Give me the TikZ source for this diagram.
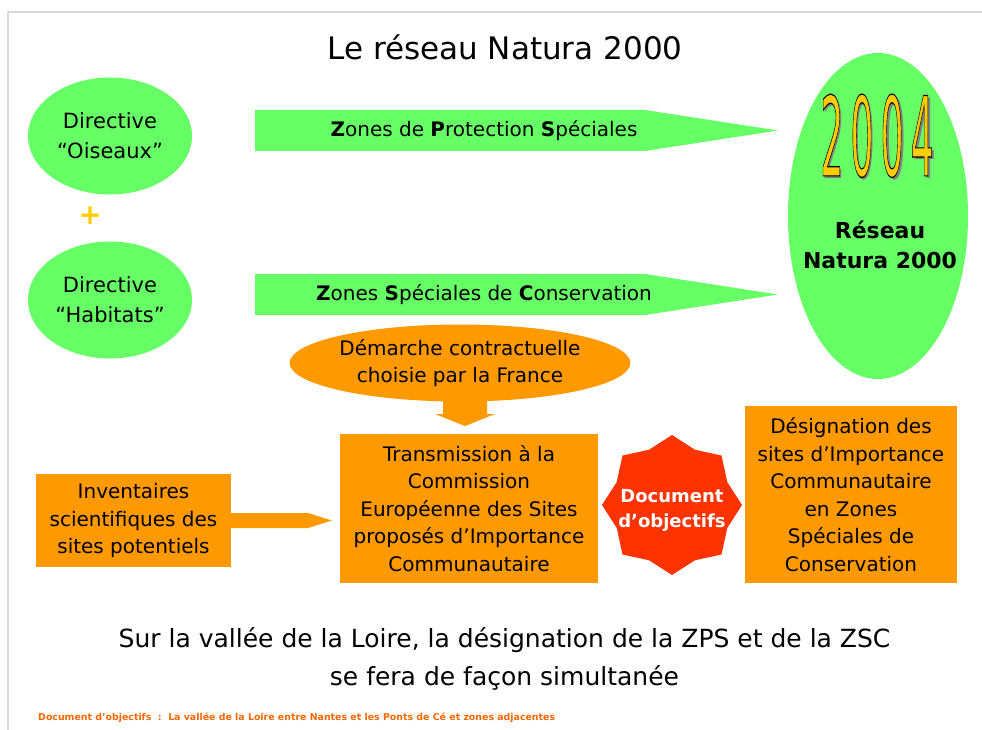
\documentclass[tikz,border=0pt]{standalone}
\usepackage{fontspec}
\setmainfont{DejaVu Sans}
\usetikzlibrary{shapes.geometric}
\definecolor{natgreen}{HTML}{66FF66}
\definecolor{natorange}{HTML}{FF9900}
\definecolor{starred}{HTML}{FF3300}
\definecolor{gold}{HTML}{FFCC00}
\definecolor{footorange}{HTML}{FF6600}
\definecolor{frame}{HTML}{D9D9D9}
\newcommand{\bodyfont}{\fontsize{20}{27.5}\selectfont}
\newcommand{\yearraw}{\scalebox{0.8}[2.45]{\fontsize{45}{45}\selectfont 2\hspace{9pt}0\hspace{9pt}0\hspace{9pt}4}}
\newcommand{\yeardigits}{%
  \rlap{\hspace{2.5pt}\raisebox{-2.5pt}{\color{gray}\yearraw}}%
  {\color{gold}\special{pdf:literal direct 0 0 0 RG 2 Tr 0.5 w}\yearraw\special{pdf:literal direct 0 Tr}}}
\tikzset{
  greenell/.style={ellipse, fill=natgreen, inner sep=0pt, align=center},
  orangebox/.style={rectangle, fill=natorange, inner sep=0pt, align=center, font=\bodyfont},
  txt/.style={inner sep=0pt, align=center},
}
\begin{document}
\begin{tikzpicture}[x=1pt,y=-1pt]
\useasboundingbox (0,0) rectangle (982,730);
% slide frame
\draw[frame, line width=1.5pt] (8,730) -- (8,12) -- (982,12);
% title
\node[txt, font=\fontsize{31}{31}\selectfont] (title) at (505,47) {Le réseau Natura 2000};
% directives
\node[greenell, minimum width=164, minimum height=117, font=\fontsize{21}{30}\selectfont] (ois) at (110,136) {Directive\\“Oiseaux”};
\node[txt, text=gold, font=\bfseries\fontsize{28}{28}\selectfont] (plus) at (90,216) {+};
\node[greenell, minimum width=164, minimum height=117, font=\fontsize{21}{30}\selectfont] (hab) at (110,300) {Directive\\“Habitats”};
% green block arrows
\fill[natgreen] (255,110) -- (645,110) -- (778,130.5) -- (645,151) -- (255,151) -- cycle;
\node[txt, font=\fontsize{20}{20}\selectfont] (zps) at (484,130.5) {\textbf{Z}ones de \textbf{P}rotection \textbf{S}péciales};
\fill[natgreen] (255,274) -- (645,274) -- (778,294.5) -- (645,315) -- (255,315) -- cycle;
\node[txt, font=\fontsize{20}{20}\selectfont] (zsc) at (484,294.5) {\textbf{Z}ones \textbf{S}péciales de \textbf{C}onservation};
% Natura 2000 ellipse
\node[greenell, minimum width=180, minimum height=326] (net) at (878,216) {};
\node[txt] (year) at (877,137) {\yeardigits};
\node[txt, font=\bfseries\fontsize{22}{30}\selectfont] (nettext) at (880,245) {Réseau\\Natura 2000};
% demarche
\node[ellipse, fill=natorange, minimum width=306, minimum height=77, inner sep=0pt, align=center, font=\bodyfont] (dem) at (460,363) {Démarche contractuelle\\choisie par la France};
% boxes
\node[orangebox, minimum width=195, minimum height=93] (inv) at (133.5,520.5) {Inventaires\\scientifiques des\\sites potentiels};
\node[orangebox, minimum width=258, minimum height=149] (trans) at (469,508.5) {Transmission à la\\Commission\\Européenne des Sites\\proposés d’Importance\\Communautaire};
\node[orangebox, minimum width=212, minimum height=177] (desig) at (851,494.5) {Désignation des\\sites d’Importance\\Communautaire\\en Zones\\Spéciales de\\Conservation};
% down arrow
\fill[natorange] (443,398) -- (487,398) -- (487,414) -- (495,414) -- (465,426) -- (435,414) -- (443,414) -- cycle;
% right arrow inventaires -> transmission
\fill[natorange] (inv.east |- 0,513) -- (308,513) -- (332,520.5) -- (308,528) -- (inv.east |- 0,528) -- cycle;
% star
\node[star, star points=8, star point ratio=1.17, fill=starred, minimum size=140, inner sep=0pt] (doc) at (672,505) {};
\node[txt, text=white, font=\bfseries\fontsize{18}{25}\selectfont] (doctext) at (672,510) {Document\\d’objectifs};
% bottom text
\node[txt, font=\fontsize{25}{38}\selectfont] (concl) at (504.5,659) {Sur la vallée de la Loire, la désignation de la ZPS et de la ZSC\\se fera de façon simultanée};
% footer
\node[anchor=west, inner sep=0pt, text=footorange, font=\bfseries\fontsize{9.4}{11}\selectfont] (foot) at (38,718) {Document d’objectifs~~:~~La vallée de la Loire entre Nantes et les Ponts de Cé et zones adjacentes};
\end{tikzpicture}
\end{document}
